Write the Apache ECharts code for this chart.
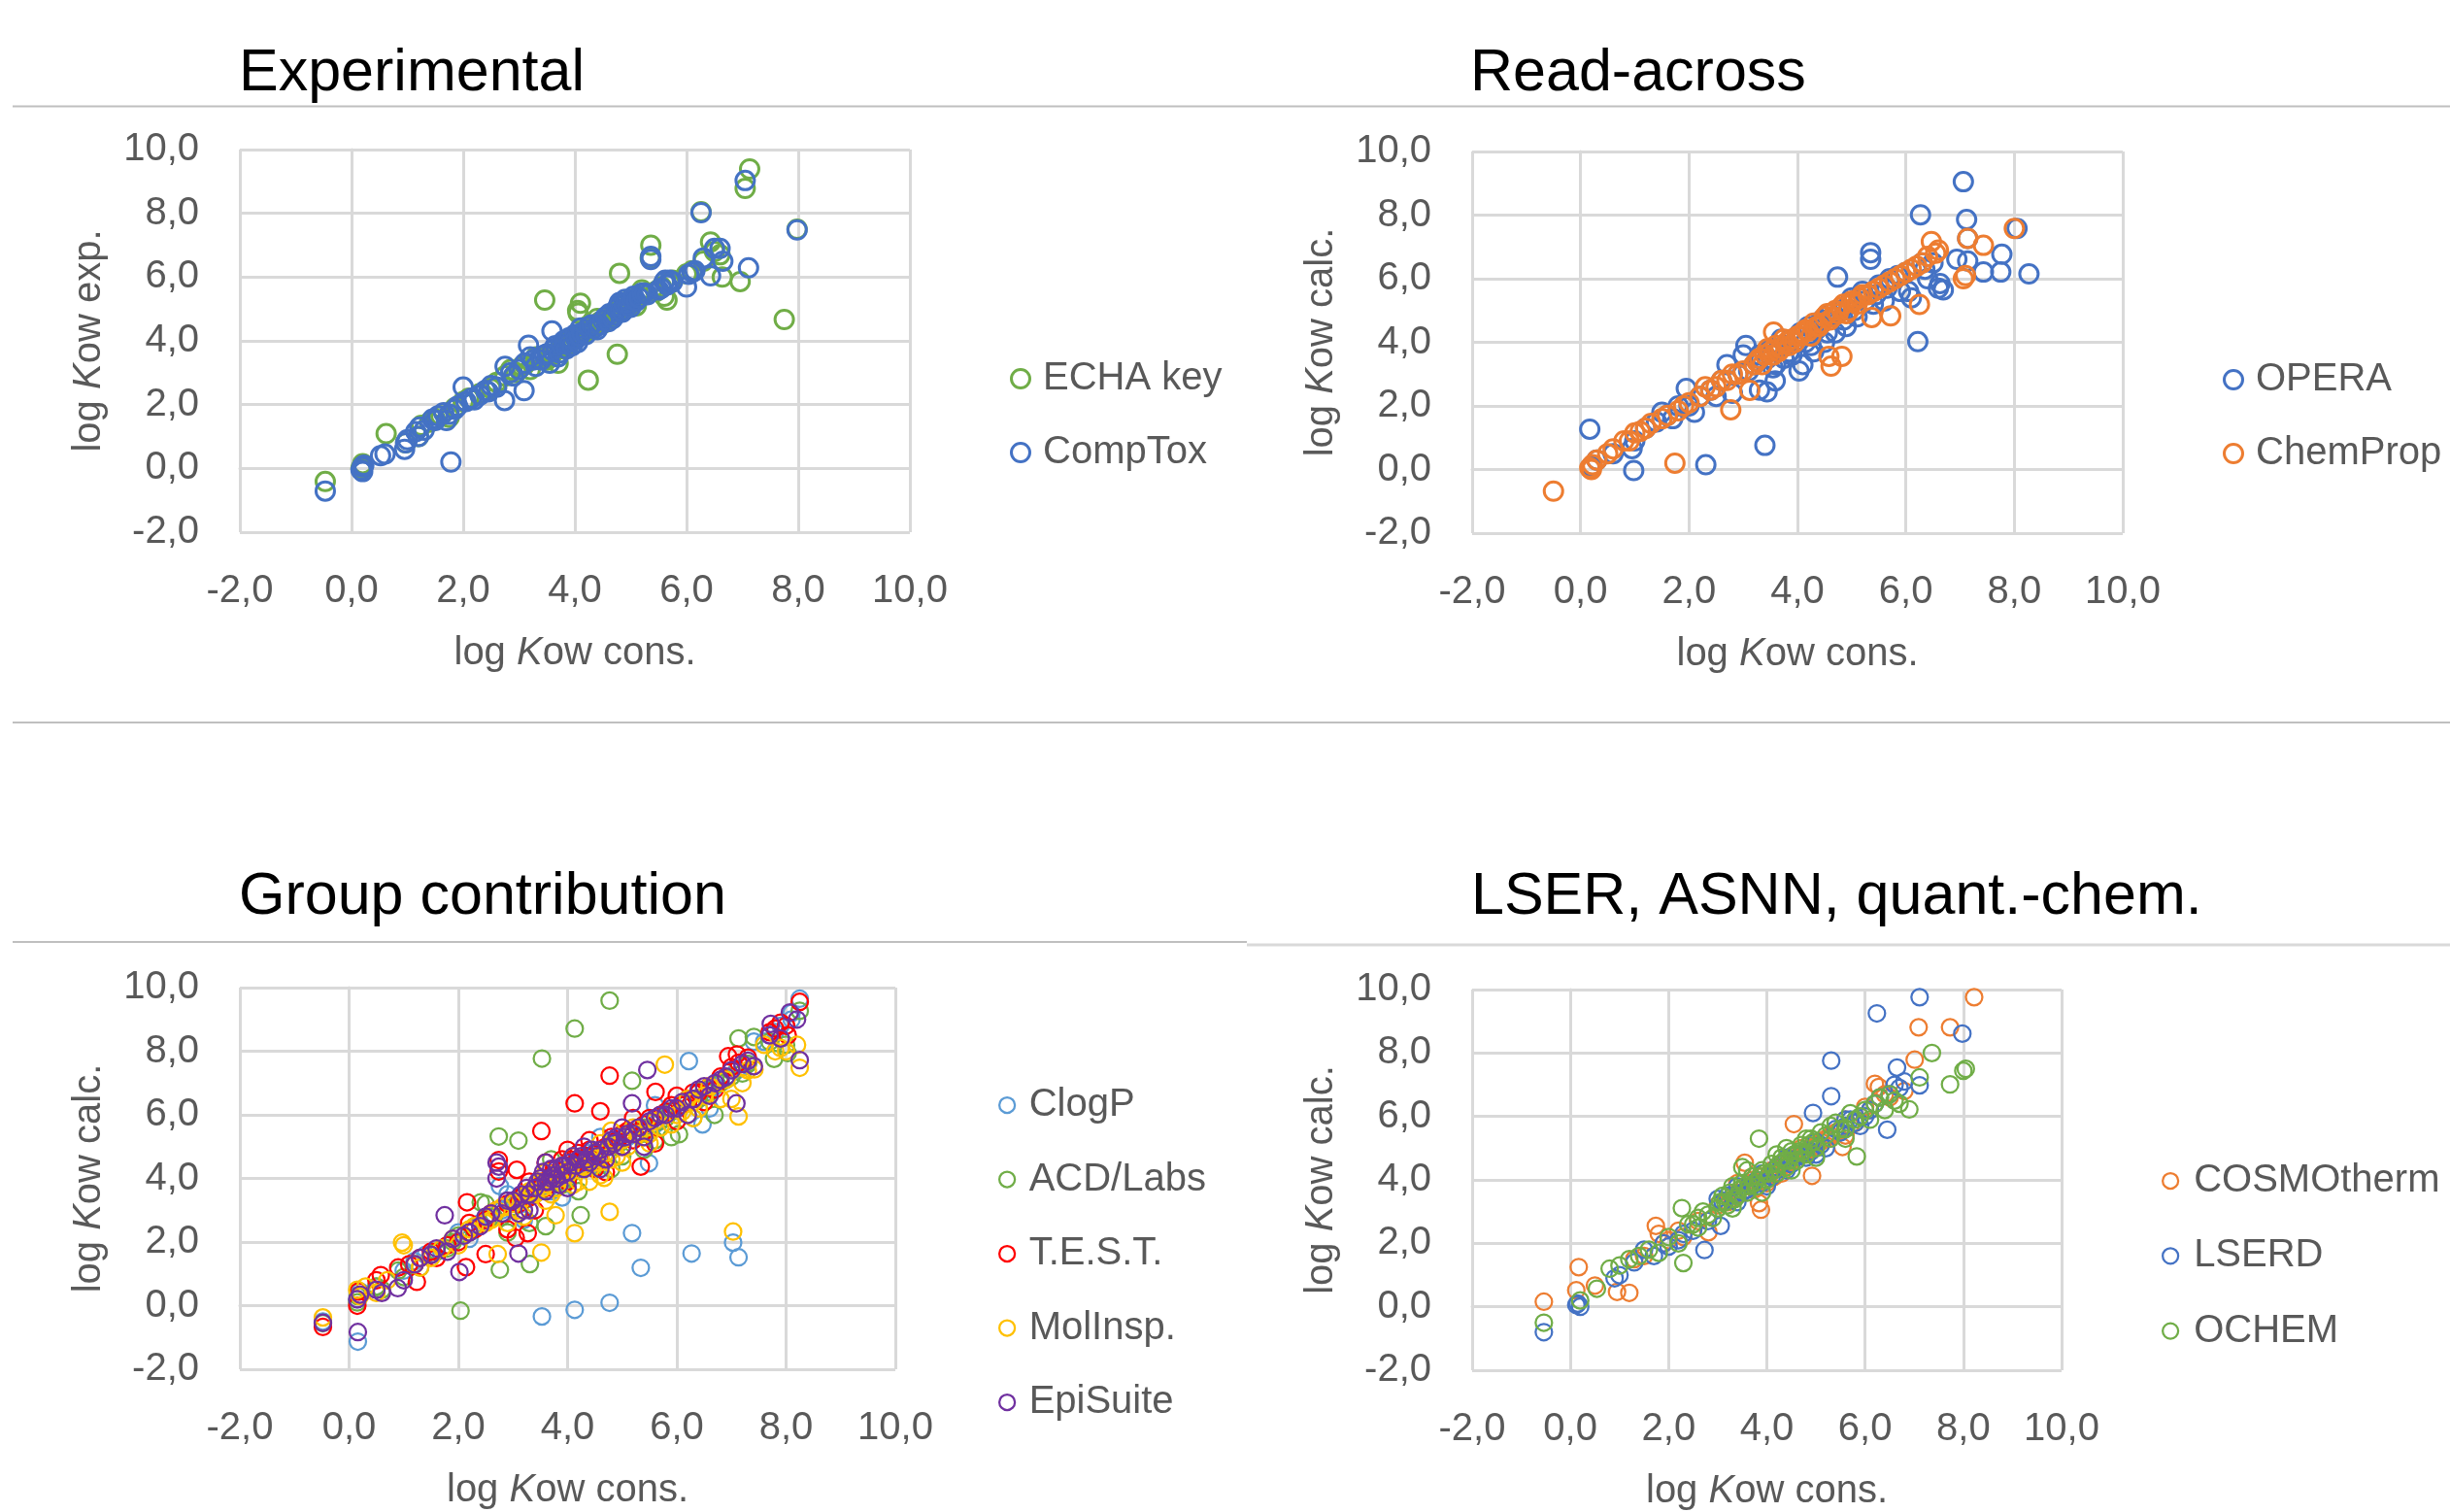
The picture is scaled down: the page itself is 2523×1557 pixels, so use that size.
<!DOCTYPE html>
<html>
<head>
<meta charset="utf-8">
<script src="https://cdn.jsdelivr.net/npm/echarts@6/dist/echarts.min.js"></script>
<style>
html,body{margin:0;padding:0;background:#fff;}
#main{width:2523px;height:1557px;}
</style>
</head>
<body>
<div id="main"></div>
<script>
// ---------- DATA ----------
const panelTitles = ['Experimental', 'Read-across', 'Group contribution', 'LSER, ASNN, quant.-chem.'];
const axisTicks = [-2, 0, 2, 4, 6, 8, 10];

// Panel 1: Experimental
const echaKey = [[-0.47,-0.41],[0.17,0.0],[0.2,0.15],[0.62,1.09],[0.97,0.8],[1.2,1.0],[1.25,1.35],[1.4,1.45],[1.5,1.55],[1.6,1.65],[1.75,1.6],[1.85,1.9],[2.0,2.1],[2.1,2.2],[2.3,2.35],[2.5,2.5],[2.6,2.7],[2.75,2.9],[2.85,3.1],[2.95,3.0],[3.05,3.2],[3.1,3.25],[3.2,3.1],[3.3,3.5],[3.4,3.5],[3.46,5.28],[3.5,3.4],[3.55,3.5],[3.6,3.6],[3.7,3.3],[3.75,3.8],[3.8,3.75],[3.85,3.95],[3.9,3.9],[3.95,4.05],[4.0,4.1],[4.06,4.87],[4.1,5.18],[4.05,4.95],[4.15,4.2],[4.2,4.3],[4.24,2.77],[4.3,4.4],[4.35,4.5],[4.4,4.7],[4.45,4.6],[4.5,4.55],[4.55,4.65],[4.6,4.8],[4.7,4.9],[4.76,3.58],[4.8,6.12],[4.85,5.0],[4.9,5.2],[4.95,5.05],[5.0,5.3],[5.05,5.2],[5.1,5.1],[5.15,5.4],[5.2,5.6],[5.25,5.5],[5.36,7.0],[5.35,6.6],[5.45,5.55],[5.55,5.7],[5.6,5.4],[5.65,5.28],[5.7,5.8],[5.75,5.9],[6.0,6.1],[6.1,6.2],[6.26,8.05],[6.3,6.5],[6.43,7.1],[6.5,6.8],[6.64,6.0],[6.6,6.7],[6.96,5.86],[7.05,8.78],[7.13,9.39],[7.75,4.67],[7.98,7.5]];
const compTox = [[-0.47,-0.71],[0.17,-0.05],[0.19,0.05],[0.2,-0.1],[0.22,0.1],[0.52,0.4],[0.6,0.45],[0.95,0.6],[0.97,0.8],[1.0,0.9],[1.15,1.15],[1.2,1.0],[1.22,1.3],[1.3,1.2],[1.45,1.55],[1.5,1.5],[1.55,1.65],[1.65,1.75],[1.7,1.5],[1.75,1.7],[1.78,0.2],[1.85,1.85],[1.9,1.95],[2.0,2.55],[2.05,2.1],[2.15,2.2],[2.2,2.15],[2.3,2.3],[2.4,2.45],[2.45,2.4],[2.5,2.6],[2.6,2.55],[2.74,2.13],[2.75,3.2],[2.85,3.0],[2.9,2.9],[3.0,3.1],[3.09,2.44],[3.1,3.3],[3.17,3.86],[3.2,3.5],[3.25,3.4],[3.3,3.2],[3.4,3.4],[3.45,3.55],[3.5,3.6],[3.55,3.3],[3.59,4.31],[3.6,3.7],[3.65,3.85],[3.7,3.5],[3.72,3.62],[3.75,3.9],[3.8,4.0],[3.82,3.9],[3.85,3.75],[3.88,4.05],[3.9,4.1],[3.92,3.95],[3.95,3.85],[4.0,4.2],[4.02,4.05],[4.05,3.95],[4.08,4.15],[4.1,4.4],[4.12,4.25],[4.2,4.2],[4.25,4.45],[4.3,4.5],[4.35,4.4],[4.4,4.35],[4.45,4.5],[4.5,4.65],[4.55,4.75],[4.6,4.6],[4.62,4.85],[4.68,4.7],[4.7,4.8],[4.75,5.0],[4.78,5.1],[4.8,5.2],[4.82,4.95],[4.85,4.9],[4.88,5.15],[4.9,5.3],[4.92,5.2],[4.95,5.1],[5.0,5.05],[5.02,5.3],[5.05,5.4],[5.1,5.25],[5.15,5.35],[5.2,5.5],[5.25,5.5],[5.3,5.45],[5.36,6.65],[5.36,6.55],[5.5,5.6],[5.55,5.65],[5.6,5.85],[5.62,5.9],[5.65,5.75],[5.7,5.9],[5.75,5.85],[6.0,5.69],[6.04,6.09],[6.1,6.15],[6.15,6.2],[6.26,8.02],[6.3,6.6],[6.43,6.04],[6.5,6.9],[6.6,6.9],[6.65,6.5],[7.05,9.03],[7.11,6.29],[7.98,7.48]];

// Panel 2: Read-across
const opera = [[0.17,1.27],[0.2,0.1],[0.3,0.3],[0.6,0.5],[0.95,0.66],[0.98,-0.03],[1.0,0.9],[1.2,1.3],[1.4,1.5],[1.5,1.8],[1.6,1.7],[1.7,1.6],[1.8,2.0],[1.95,2.55],[2.0,2.0],[2.1,1.8],[2.2,2.3],[2.31,0.15],[2.4,2.5],[2.5,2.3],[2.6,2.8],[2.7,3.3],[2.8,2.4],[2.9,3.0],[3.0,3.6],[3.05,3.9],[3.1,3.1],[3.2,3.3],[3.3,2.5],[3.3,3.6],[3.40,0.76],[3.44,2.44],[3.45,3.5],[3.5,3.8],[3.55,3.2],[3.59,2.79],[3.6,3.3],[3.65,3.8],[3.7,4.1],[3.75,3.5],[3.8,3.9],[3.85,3.7],[3.9,3.6],[3.95,4.0],[4.0,4.2],[4.03,3.10],[4.05,4.3],[4.1,3.3],[4.15,4.0],[4.2,4.5],[4.25,3.9],[4.3,3.7],[4.35,4.4],[4.4,4.6],[4.45,4.7],[4.5,4.0],[4.55,4.3],[4.6,4.9],[4.65,4.8],[4.7,4.3],[4.74,6.05],[4.8,5.0],[4.85,4.7],[4.9,4.5],[4.95,5.2],[5.0,5.4],[5.05,5.0],[5.1,4.8],[5.2,5.6],[5.25,5.3],[5.35,6.82],[5.35,6.61],[5.4,5.2],[5.45,5.5],[5.5,5.8],[5.6,5.3],[5.65,5.7],[5.7,6.0],[5.85,6.1],[5.9,5.6],[6.0,6.2],[6.05,5.6],[6.1,5.4],[6.22,4.02],[6.27,8.01],[6.3,6.5],[6.35,6.3],[6.4,6.0],[6.5,6.5],[6.6,5.7],[6.63,5.85],[6.69,5.65],[6.94,6.61],[7.06,9.05],[7.12,7.86],[7.14,7.27],[7.14,6.56],[7.43,6.21],[7.75,6.21],[7.77,6.77],[8.05,7.58],[8.27,6.15]];
const chemProp = [[-0.5,-0.68],[0.17,0.05],[0.2,0.0],[0.22,0.15],[0.3,0.3],[0.5,0.5],[0.6,0.65],[0.8,0.9],[0.9,0.9],[1.0,1.15],[1.1,1.2],[1.2,1.3],[1.3,1.45],[1.5,1.6],[1.6,1.7],[1.74,0.20],[1.8,1.85],[1.9,2.0],[2.0,2.1],[2.2,2.3],[2.3,2.6],[2.4,2.5],[2.5,2.6],[2.6,2.8],[2.7,2.8],[2.77,1.88],[2.8,3.0],[2.9,3.0],[3.0,3.1],[3.12,2.49],[3.2,3.3],[3.25,3.4],[3.3,3.5],[3.35,3.3],[3.4,3.6],[3.45,3.8],[3.5,3.7],[3.55,3.6],[3.56,4.32],[3.6,3.9],[3.65,3.7],[3.7,3.8],[3.75,4.1],[3.8,4.0],[3.85,3.9],[3.9,4.1],[3.95,4.0],[4.0,4.2],[4.05,4.2],[4.1,4.3],[4.15,4.4],[4.2,4.35],[4.25,4.2],[4.3,4.6],[4.35,4.5],[4.4,4.5],[4.45,4.6],[4.5,4.8],[4.55,4.9],[4.58,3.56],[4.62,3.25],[4.6,4.7],[4.65,4.8],[4.7,5.0],[4.75,4.9],[4.82,3.56],[4.8,5.1],[4.85,5.2],[4.9,4.9],[4.95,5.0],[5.0,5.3],[5.05,5.3],[5.1,5.2],[5.15,5.4],[5.2,5.5],[5.3,5.5],[5.37,4.78],[5.4,5.6],[5.5,5.7],[5.6,5.8],[5.7,5.9],[5.72,4.83],[5.8,6.0],[5.9,6.1],[6.0,6.2],[6.1,6.3],[6.2,6.4],[6.25,5.19],[6.3,6.5],[6.4,6.7],[6.47,7.17],[6.55,6.8],[6.6,6.9],[7.06,6.0],[7.1,6.1],[7.14,7.27],[7.43,7.05],[8.0,7.58]];

// Panel 3: Group contribution
const clogP = [[-0.48,-0.5],[0.16,-1.13],[0.15,0.2],[0.2,0.45],[0.5,0.6],[1.0,1.1],[1.2,1.4],[1.4,1.6],[1.6,1.7],[1.8,1.9],[2.0,2.3],[2.1,2.2],[2.2,2.1],[2.4,2.6],[2.5,2.7],[2.6,2.8],[2.76,3.76],[2.8,3.0],[2.9,3.5],[3.0,3.1],[3.1,3.4],[3.2,3.3],[3.2,2.7],[3.3,3.5],[3.4,3.7],[3.5,3.7],[3.53,-0.34],[3.6,3.8],[3.7,3.6],[3.8,4.0],[3.9,4.1],[3.9,3.4],[4.0,4.3],[4.1,4.2],[4.13,-0.13],[4.2,4.4],[4.3,4.5],[4.4,4.8],[4.5,4.6],[4.6,4.4],[4.6,5.3],[4.7,4.8],[4.77,0.09],[4.8,5.0],[4.9,5.1],[5.0,5.2],[5.1,5.3],[5.18,2.28],[5.2,5.4],[5.3,5.5],[5.34,1.19],[5.49,4.48],[5.5,5.6],[5.6,5.7],[5.6,6.3],[5.7,5.8],[5.8,6.0],[5.9,6.1],[6.0,6.2],[6.1,6.3],[6.2,6.4],[6.22,7.69],[6.27,1.64],[6.3,6.5],[6.4,6.2],[6.47,5.70],[6.5,6.6],[6.6,6.8],[6.6,6.2],[6.7,6.9],[6.8,7.0],[6.9,7.2],[7.03,1.98],[7.1,7.4],[7.13,1.52],[7.2,7.5],[7.3,7.6],[7.41,8.30],[7.6,8.3],[7.7,8.5],[7.8,8.6],[7.9,8.8],[8.1,9.0],[8.1,9.2],[8.25,9.65]];
const acdLabs = [[-0.48,-0.55],[0.15,0.1],[0.16,0.3],[0.5,0.6],[0.6,0.5],[0.9,1.1],[1.0,0.9],[1.2,1.3],[1.3,1.2],[1.5,1.6],[1.6,1.7],[1.8,1.8],[1.9,2.0],[2.04,-0.16],[2.0,2.2],[2.2,2.3],[2.3,2.5],[2.41,3.25],[2.5,3.2],[2.6,2.9],[2.65,2.8],[2.74,5.32],[2.76,1.13],[2.8,2.8],[2.9,2.3],[3.0,3.1],[3.10,5.19],[3.15,3.4],[3.2,3.3],[3.3,2.6],[3.31,1.31],[3.35,3.6],[3.4,3.5],[3.53,7.77],[3.5,3.6],[3.55,3.8],[3.6,3.9],[3.6,2.5],[3.7,4.0],[3.7,4.6],[3.75,3.7],[3.8,4.1],[3.85,4.2],[3.9,3.8],[3.95,4.0],[4.0,4.0],[4.1,4.2],[4.13,8.71],[4.24,2.84],[4.2,4.5],[4.2,3.6],[4.3,4.3],[4.4,4.7],[4.45,4.6],[4.5,4.4],[4.6,4.6],[4.7,4.8],[4.77,9.59],[4.8,5.1],[4.8,4.3],[4.9,5.0],[5.0,4.7],[5.0,5.2],[5.1,5.4],[5.18,7.07],[5.3,5.4],[5.4,5.6],[5.4,4.9],[5.5,5.5],[5.6,5.2],[5.7,5.8],[5.8,5.9],[5.9,6.1],[5.9,5.3],[6.04,5.39],[6.0,6.2],[6.1,6.3],[6.2,6.0],[6.3,6.5],[6.3,5.9],[6.4,6.5],[6.5,6.8],[6.6,6.7],[6.69,6.0],[6.8,7.0],[6.9,7.1],[7.0,7.2],[7.13,8.40],[7.2,7.3],[7.3,7.6],[7.41,8.45],[7.7,8.3],[7.78,7.76],[8.0,8.2],[8.03,7.94],[8.25,9.27]];
const testData = [[-0.48,-0.67],[0.15,0.0],[0.17,0.45],[0.5,0.8],[0.58,0.96],[0.9,1.2],[1.1,1.3],[1.24,0.75],[1.3,1.5],[1.5,1.7],[1.6,1.5],[1.8,1.9],[2.0,2.0],[2.14,1.21],[2.16,3.25],[2.2,2.6],[2.3,2.4],[2.50,1.62],[2.5,2.7],[2.6,2.9],[2.7,3.0],[2.74,4.58],[2.74,4.22],[2.9,3.2],[2.9,2.4],[3.05,2.13],[3.07,4.27],[3.1,3.2],[3.2,3.5],[3.27,2.28],[3.3,3.4],[3.3,3.9],[3.4,3.7],[3.4,3.0],[3.5,3.8],[3.52,5.49],[3.55,3.9],[3.6,3.7],[3.6,4.5],[3.65,4.0],[3.7,4.1],[3.75,4.3],[3.8,4.2],[3.85,4.1],[3.9,4.6],[3.95,4.4],[4.0,3.9],[4.0,4.9],[4.05,4.6],[4.1,4.3],[4.13,6.36],[4.2,4.8],[4.25,4.5],[4.3,4.6],[4.35,4.7],[4.4,4.9],[4.4,5.2],[4.5,4.3],[4.55,4.8],[4.6,4.6],[4.60,6.11],[4.7,5.0],[4.7,4.2],[4.77,7.23],[4.8,5.3],[4.9,5.2],[5.0,5.0],[5.0,5.4],[5.1,5.5],[5.2,5.2],[5.2,5.9],[5.34,4.37],[5.3,5.6],[5.4,5.7],[5.5,5.9],[5.6,5.1],[5.61,6.72],[5.7,6.0],[5.8,6.1],[5.9,6.3],[6.0,5.8],[6.0,6.6],[6.1,6.3],[6.2,6.5],[6.3,6.7],[6.4,6.7],[6.5,6.4],[6.6,6.9],[6.7,6.8],[6.8,7.2],[6.94,7.84],[7.0,7.5],[7.1,7.9],[7.13,7.64],[7.3,7.8],[7.7,8.6],[7.80,8.71],[7.9,8.9],[8.0,8.8],[8.03,8.50],[8.25,9.55]];
const molInsp = [[-0.48,-0.37],[0.15,0.5],[0.2,0.3],[0.3,0.6],[0.5,0.4],[0.7,0.8],[0.97,1.98],[1.0,1.9],[1.2,1.3],[1.3,1.2],[1.5,1.5],[1.7,1.8],[1.9,2.1],[2.0,1.9],[2.2,2.4],[2.3,2.5],[2.5,2.6],[2.6,2.7],[2.72,1.62],[2.7,3.0],[2.8,3.1],[2.9,2.6],[3.0,3.2],[3.1,3.0],[3.15,3.3],[3.2,2.8],[3.3,3.6],[3.35,3.5],[3.4,3.5],[3.45,3.8],[3.52,1.67],[3.5,3.9],[3.55,3.7],[3.6,4.2],[3.6,3.3],[3.65,3.9],[3.7,3.5],[3.75,4.0],[3.78,2.84],[3.8,3.7],[3.85,4.0],[3.9,4.4],[3.95,4.2],[4.0,4.1],[4.05,4.3],[4.1,3.8],[4.1,4.7],[4.13,2.28],[4.2,3.9],[4.25,4.4],[4.3,4.3],[4.4,4.6],[4.4,3.9],[4.5,4.5],[4.6,5.1],[4.6,4.1],[4.67,4.02],[4.7,4.8],[4.77,2.95],[4.8,4.6],[4.8,5.5],[4.9,4.7],[5.0,5.2],[5.0,4.5],[5.1,5.0],[5.2,5.6],[5.3,5.4],[5.4,5.3],[5.5,5.4],[5.5,5.1],[5.6,5.8],[5.7,5.6],[5.78,7.58],[5.8,6.0],[5.9,5.7],[6.0,6.0],[6.1,6.1],[6.2,6.5],[6.3,6.4],[6.3,5.9],[6.4,6.2],[6.5,6.6],[6.6,6.9],[6.8,6.5],[6.9,7.1],[7.0,6.5],[7.03,2.33],[7.13,5.95],[7.2,7.0],[7.3,7.4],[7.42,7.43],[7.6,8.2],[7.8,8.0],[7.9,8.1],[8.0,8.0],[8.2,8.2],[8.25,7.48]];
const epiSuite = [[-0.48,-0.54],[0.16,-0.83],[0.15,0.2],[0.2,0.35],[0.5,0.5],[0.6,0.4],[0.89,0.55],[1.0,0.8],[1.2,1.3],[1.3,1.5],[1.5,1.6],[1.6,1.8],[1.75,2.84],[1.8,1.7],[1.9,2.1],[2.02,1.06],[2.1,2.2],[2.2,2.3],[2.4,2.5],[2.5,2.8],[2.6,2.9],[2.7,4.0],[2.7,4.5],[2.74,4.37],[2.8,2.9],[2.9,3.3],[3.0,3.3],[3.1,2.9],[3.10,1.64],[3.15,3.5],[3.2,3.0],[3.25,3.7],[3.3,3.5],[3.3,3.0],[3.4,3.7],[3.45,3.9],[3.5,4.0],[3.55,4.2],[3.6,3.9],[3.6,3.6],[3.6,4.5],[3.65,3.9],[3.7,4.3],[3.7,4.0],[3.75,4.1],[3.8,4.0],[3.8,4.3],[3.85,3.8],[3.9,4.4],[3.9,4.1],[3.95,4.4],[4.0,4.2],[4.0,3.7],[4.05,4.5],[4.1,4.7],[4.15,4.4],[4.2,4.6],[4.25,4.7],[4.3,4.3],[4.3,5.0],[4.35,4.6],[4.4,4.5],[4.45,4.9],[4.5,4.8],[4.55,4.7],[4.6,4.9],[4.6,4.3],[4.7,4.6],[4.75,5.0],[4.8,5.2],[4.85,5.1],[4.9,5.3],[5.0,5.0],[5.0,5.6],[5.05,5.3],[5.1,5.4],[5.18,6.36],[5.2,5.4],[5.3,5.6],[5.4,5.3],[5.4,5.0],[5.46,7.41],[5.5,5.8],[5.6,5.9],[5.7,6.0],[5.8,6.0],[5.9,6.2],[6.0,6.2],[6.1,6.4],[6.2,6.0],[6.3,6.5],[6.4,6.8],[6.5,6.9],[6.6,6.6],[6.7,7.0],[6.8,7.1],[6.9,7.2],[7.0,7.4],[7.09,6.36],[7.2,7.6],[7.3,7.7],[7.41,7.53],[7.7,8.5],[7.72,8.86],[7.9,8.4],[8.07,9.22],[8.2,9.0],[8.25,7.72]];

// Panel 4: LSER, ASNN, quant.-chem.
const cosmoTherm = [[-0.54,0.16],[0.12,0.52],[0.17,1.25],[0.5,0.67],[0.95,0.47],[1.2,0.44],[1.3,1.5],[1.5,1.6],[1.74,2.55],[1.8,2.3],[1.9,2.0],[2.0,2.1],[2.2,2.4],[2.3,2.2],[2.6,2.7],[2.81,2.35],[3.0,3.2],[3.2,3.3],[3.3,3.4],[3.4,3.6],[3.4,3.9],[3.5,3.6],[3.55,4.54],[3.6,3.7],[3.65,3.9],[3.7,4.0],[3.75,3.7],[3.84,3.27],[3.88,3.06],[3.9,4.1],[3.95,4.0],[4.0,3.9],[4.05,4.2],[4.1,4.3],[4.15,4.1],[4.2,4.4],[4.3,4.4],[4.3,4.2],[4.4,4.5],[4.5,4.6],[4.55,5.76],[4.6,4.7],[4.7,4.8],[4.7,5.0],[4.8,4.9],[4.9,5.0],[4.92,4.13],[5.0,5.1],[5.1,5.2],[5.2,5.3],[5.3,5.4],[5.4,5.5],[5.54,5.04],[5.6,5.9],[5.6,5.4],[5.7,5.7],[5.8,5.8],[6.0,6.3],[6.1,6.2],[6.20,7.03],[6.28,6.93],[6.4,6.7],[6.5,6.6],[6.8,6.8],[7.01,7.79],[7.09,8.81],[7.73,8.81],[8.22,9.76]];
const lserd = [[-0.54,-0.80],[0.12,0.06],[0.15,0.1],[0.2,0.0],[0.9,0.9],[1.0,1.0],[1.3,1.4],[1.5,1.8],[1.7,1.6],[1.9,2.0],[2.0,1.9],[2.2,2.1],[2.3,2.3],[2.5,2.4],[2.73,1.79],[2.8,2.7],[3.06,2.55],[3.0,3.4],[3.1,3.3],[3.2,3.5],[3.3,3.5],[3.4,3.3],[3.4,3.8],[3.5,3.6],[3.6,3.7],[3.7,3.8],[3.8,4.0],[3.9,3.9],[3.9,4.2],[4.0,3.8],[4.1,4.1],[4.2,4.4],[4.3,4.5],[4.4,4.3],[4.4,4.7],[4.5,4.5],[4.6,4.8],[4.7,4.8],[4.8,4.7],[4.9,4.9],[4.94,6.11],[5.0,5.2],[5.0,4.8],[5.1,5.1],[5.2,5.0],[5.31,6.64],[5.31,7.76],[5.4,5.6],[5.5,5.5],[5.6,5.7],[5.6,5.9],[5.7,5.9],[5.8,5.8],[5.9,5.7],[6.0,6.0],[6.1,6.2],[6.2,6.4],[6.24,9.25],[6.3,6.6],[6.45,5.58],[6.5,6.7],[6.6,7.0],[6.65,7.54],[6.7,6.9],[6.8,7.1],[7.11,6.98],[7.11,9.76],[7.98,8.61]];
const ochem = [[-0.54,-0.50],[0.2,0.2],[0.54,0.57],[0.8,1.2],[1.0,1.3],[1.2,1.5],[1.4,1.6],[1.6,1.8],[1.8,1.7],[2.0,2.2],[2.2,2.0],[2.27,3.11],[2.30,1.38],[2.4,2.6],[2.5,2.6],[2.6,2.8],[2.6,2.5],[2.7,3.0],[2.8,2.9],[2.9,2.8],[3.0,3.1],[3.05,3.3],[3.1,3.5],[3.15,3.3],[3.2,3.2],[3.25,3.6],[3.3,3.8],[3.3,3.1],[3.35,3.4],[3.4,3.5],[3.45,3.7],[3.5,3.9],[3.5,4.4],[3.55,3.8],[3.6,3.6],[3.6,4.3],[3.65,3.8],[3.7,4.1],[3.75,3.9],[3.84,5.30],[3.8,3.8],[3.85,4.1],[3.9,4.3],[3.9,3.6],[3.95,4.2],[4.0,4.0],[4.05,4.2],[4.1,4.5],[4.15,4.3],[4.2,4.2],[4.2,4.8],[4.25,4.5],[4.3,4.7],[4.35,4.6],[4.4,4.4],[4.4,5.0],[4.45,4.6],[4.5,4.9],[4.5,4.3],[4.55,4.8],[4.6,4.6],[4.65,4.9],[4.7,5.1],[4.75,4.9],[4.8,4.8],[4.8,5.3],[4.85,5.1],[4.9,5.3],[4.95,5.2],[5.0,5.0],[5.0,4.7],[5.1,5.5],[5.2,5.4],[5.3,5.3],[5.3,5.7],[5.4,5.8],[5.5,5.6],[5.6,5.6],[5.6,5.3],[5.7,6.1],[5.8,5.9],[5.83,4.74],[5.9,6.0],[6.0,6.2],[6.1,5.9],[6.2,6.4],[6.3,6.6],[6.4,6.2],[6.5,6.7],[6.6,6.5],[6.7,6.4],[6.90,6.22],[7.11,7.23],[7.36,8.0],[7.73,7.01],[8.0,7.44],[8.05,7.5]];

// ---------- STYLE / LAYOUT ----------
const FONT = '"Liberation Sans", Arial, sans-serif';
const GRID_COLOR = '#D9D9D9';
const LABEL_COLOR = '#595959';

const grids = [
  {left: 247,  top: 154,  width: 690, height: 394},
  {left: 1516, top: 156,  width: 670, height: 393},
  {left: 247,  top: 1017, width: 675, height: 393},
  {left: 1516, top: 1019, width: 607, height: 393}
];

const panels = [
  {yName: 'exp.', size: 19, bw: 3, series: [['ECHA key', echaKey, '#70AD47'], ['CompTox', compTox, '#4472C4']],
   legend: {left: 1040, top: 370, iw: 36, ih: 19, gap: 36}},
  {yName: 'calc.', size: 19, bw: 3, series: [['OPERA', opera, '#4472C4'], ['ChemProp', chemProp, '#ED7D31']],
   legend: {left: 2289, top: 371, iw: 36, ih: 19, gap: 36}},
  {yName: 'calc.', size: 17, bw: 2.25, series: [['ClogP', clogP, '#5B9BD5'], ['ACD/Labs', acdLabs, '#70AD47'], ['T.E.S.T.', testData, '#FF0000'], ['MolInsp.', molInsp, '#FFC000'], ['EpiSuite', epiSuite, '#7030A0']],
   legend: {left: 1028, top: 1118, iw: 35, ih: 16, gap: 36.5}},
  {yName: 'calc.', size: 17, bw: 2.25, series: [['COSMOtherm', cosmoTherm, '#ED7D31'], ['LSERD', lserd, '#4472C4'], ['OCHEM', ochem, '#70AD47']],
   legend: {left: 2226, top: 1196, iw: 38, ih: 16, gap: 37.3}}
];

const fmt = v => v.toFixed(1).replace('.', ',');
const rich = {
  n: {fontSize: 40, fontFamily: FONT, color: LABEL_COLOR, lineHeight: 40},
  i: {fontSize: 40, fontFamily: FONT, color: LABEL_COLOR, lineHeight: 40, fontStyle: 'italic'}
};

const xAxes = [], yAxes = [], series = [], legends = [];
panels.forEach((p, gi) => {
  const common = {
    gridIndex: gi, type: 'value', min: axisTicks[0], max: axisTicks[axisTicks.length - 1], interval: 2,
    axisTick: {show: false},
    axisLine: {show: true, lineStyle: {color: GRID_COLOR, width: 3}},
    splitLine: {show: true, lineStyle: {color: GRID_COLOR, width: 3}},
    axisLabel: {formatter: fmt, fontSize: 40, fontFamily: FONT, color: LABEL_COLOR, lineHeight: 40},
    nameLocation: 'middle',
    nameTextStyle: {rich: rich}
  };
  xAxes.push(Object.assign({}, common, {
    name: '{n|log }{i|K}{n|ow cons.}', nameGap: 105,
    axisLabel: Object.assign({}, common.axisLabel, {margin: 41})
  }));
  yAxes.push(Object.assign({}, common, {
    name: '{n|log }{i|K}{n|ow ' + p.yName + '}', nameGap: 135,
    axisLabel: Object.assign({}, common.axisLabel, {margin: 42})
  }));
  p.series.forEach(([name, data, color]) => {
    series.push({
      type: 'scatter', name: name, xAxisIndex: gi, yAxisIndex: gi, data: data,
      symbol: 'circle', symbolSize: p.size,
      itemStyle: {color: 'rgba(0,0,0,0)', borderColor: color, borderWidth: p.bw, opacity: 1},
      emphasis: {disabled: true}
    });
  });
  legends.push({
    orient: 'vertical', left: p.legend.left, top: p.legend.top,
    itemWidth: p.legend.iw, itemHeight: p.legend.ih, itemGap: p.legend.gap,
    icon: 'circle', selectedMode: false, padding: 0,
    textStyle: {fontSize: 40, fontFamily: FONT, color: LABEL_COLOR, lineHeight: 40},
    data: p.series.map(([name, , color]) => ({
      name: name,
      itemStyle: {color: 'rgba(0,0,0,0)', borderColor: color, borderWidth: p.bw}
    }))
  });
});

const titleStyle = (t, x, y) => ({
  type: 'text', x: x, y: y,
  style: {text: t, fontSize: 61, fontFamily: FONT, fill: '#000000', align: 'left', verticalAlign: 'middle'}
});
const hline = (x1, x2, y, c, w) => ({
  type: 'line', shape: {x1: x1, y1: y, x2: x2, y2: y}, style: {stroke: c, lineWidth: w}
});

const chart = echarts.init(document.getElementById('main'), null, {renderer: 'canvas'});
chart.setOption({
  animation: false,
  backgroundColor: '#ffffff',
  textStyle: {fontFamily: FONT},
  grid: grids,
  xAxis: xAxes,
  yAxis: yAxes,
  legend: legends,
  series: series,
  graphic: [
    hline(13, 2523, 109.5, '#BFBFBF', 2),
    hline(13, 2523, 744, '#BFBFBF', 2),
    hline(13, 1284, 970, '#BFBFBF', 2),
    hline(1284, 2523, 973, '#D9D9D9', 3),
    titleStyle(panelTitles[0], 246, 76),
    titleStyle(panelTitles[1], 1514, 76),
    titleStyle(panelTitles[2], 246, 924),
    titleStyle(panelTitles[3], 1515, 924)
  ]
});
</script>
</body>
</html>
